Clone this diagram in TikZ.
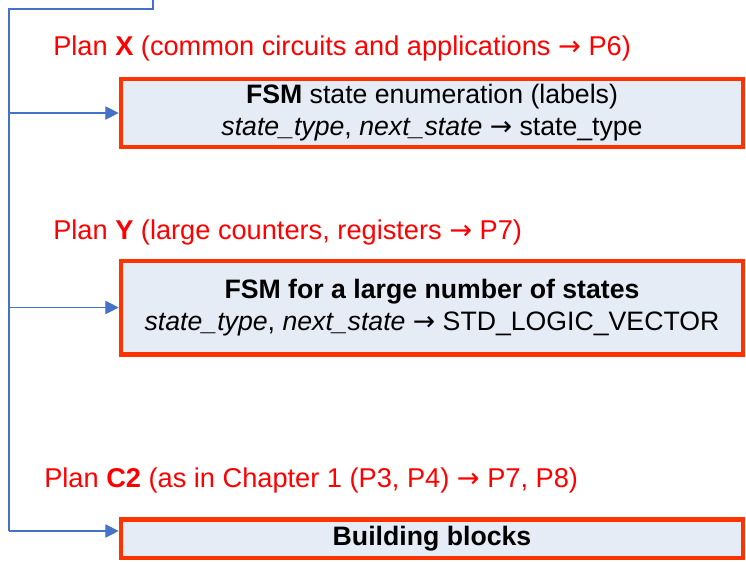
\documentclass[tikz,border=0pt]{standalone}
\usepackage{fontspec}
\setmainfont{Liberation Sans}
\newfontfamily\arrowfont{DejaVu Sans}
\usetikzlibrary{arrows.meta,positioning,calc}
\definecolor{planred}{RGB}{255,0,0}
\definecolor{boxred}{RGB}{255,51,0}
\definecolor{boxfill}{RGB}{230,236,246}
\definecolor{linkblue}{RGB}{68,114,196}
\newcommand{\plarrow}{{\arrowfont →}}
\tikzset{
  planbox/.style={
    rectangle, draw=boxred, fill=boxfill, line width=3.5pt,
    minimum width=466.5pt, align=center, inner sep=0pt,
    font=\fontsize{20}{24}\selectfont
  },
  plantext/.style={
    anchor=west, text=planred, inner sep=0pt,
    font=\fontsize{20.4}{24}\selectfont
  },
  planlink/.style={-{Triangle[length=10pt,width=10pt]}, linkblue, line width=0.8pt}
}

\begin{document}
\begin{tikzpicture}[x=0.75pt,y=-0.75pt]
  \useasboundingbox (0,0) rectangle (746,561);

  \node[planbox, minimum height=51pt] (fsmenum) at (432,113)
    {\textbf{FSM} state enumeration (labels)\\
     \textit{state\_type}, \textit{next\_state} \plarrow{} state\_type};
  \node[planbox, minimum height=70pt] (fsmlarge) at (432,307.5)
    {\textbf{FSM for a large number of states}\\
     \textit{state\_type}, \textit{next\_state} \plarrow{} STD\_LOGIC\_VECTOR};
  \node[planbox, minimum height=29pt] (blocks) at (432,538.5)
    {\textbf{Building blocks}};

  \node[plantext] (planx) at (53,48)
    {Plan \textbf{X} (common circuits and applications \plarrow{} P6)};
  \node[plantext] (plany) at (53,232)
    {Plan \textbf{Y} (large counters, registers \plarrow{} P7)};
  \node[plantext] (planc) at (44,480)
    {Plan \textbf{C2} (as in Chapter 1 (P3, P4) \plarrow{} P7, P8)};

  % spine coming from above
  \coordinate (top) at (153,-2);
  \coordinate (bend) at (9,9);
  \coordinate (foot) at (9,531);
  \draw[linkblue, line width=0.8pt] (top) |- (bend) -- (foot);

  \draw[planlink] (foot |- fsmenum.west) -- (fsmenum.west);
  \draw[planlink] (foot |- fsmlarge.west) -- (fsmlarge.west);
  \draw[planlink] (foot) -- (blocks.west |- foot);
\end{tikzpicture}
\end{document}
